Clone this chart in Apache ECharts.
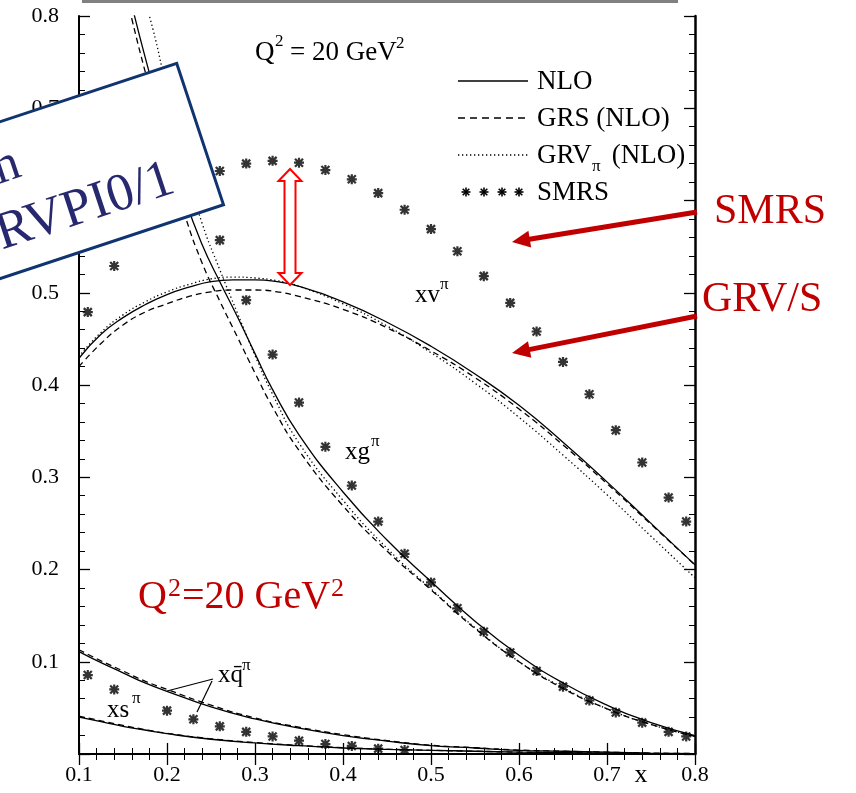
<!DOCTYPE html>
<html>
<head>
<meta charset="utf-8">
<script src="https://cdn.jsdelivr.net/npm/echarts@6/dist/echarts.min.js"></script>
<style>
  html, body { margin: 0; padding: 0; background: #fff; }
  #chart { width: 856px; height: 793px; }
</style>
</head>
<body>
<div id="chart"></div>
<script>
// valence curves xv (x grid)
const xvX = [0.10, 0.125, 0.15, 0.175, 0.20, 0.225, 0.25, 0.275, 0.30, 0.325, 0.35, 0.40, 0.45, 0.50, 0.55, 0.60, 0.65, 0.70, 0.75, 0.80];
const xvNLO = [0.429, 0.455, 0.473, 0.487, 0.498, 0.506, 0.512, 0.514, 0.514, 0.512, 0.507, 0.490, 0.468, 0.442, 0.412, 0.378, 0.338, 0.295, 0.250, 0.205];
const xvGRS = [0.420, 0.445, 0.465, 0.479, 0.488, 0.496, 0.501, 0.503, 0.503, 0.501, 0.496, 0.482, 0.462, 0.437, 0.408, 0.374, 0.335, 0.293, 0.249, 0.205];
const xvGRV = [0.431, 0.457, 0.476, 0.490, 0.501, 0.509, 0.515, 0.517, 0.516, 0.513, 0.507, 0.488, 0.464, 0.435, 0.402, 0.365, 0.324, 0.281, 0.236, 0.191];

// gluon curves xg
const xgX = [0.15, 0.16, 0.18, 0.20, 0.22, 0.24, 0.26, 0.28, 0.30, 0.32, 0.35, 0.40, 0.45, 0.50, 0.55, 0.60, 0.65, 0.70, 0.75, 0.80];
const xgNLO = [0.855, 0.812, 0.738, 0.668, 0.603, 0.552, 0.512, 0.474, 0.434, 0.395, 0.346, 0.284, 0.232, 0.187, 0.144, 0.107, 0.077, 0.053, 0.034, 0.020];
const xgGRS = [0.840, 0.797, 0.722, 0.650, 0.585, 0.532, 0.491, 0.452, 0.413, 0.376, 0.329, 0.269, 0.220, 0.178, 0.136, 0.100, 0.071, 0.049, 0.032, 0.019];
const xgGRV = [0.890, 0.860, 0.800, 0.720, 0.640, 0.575, 0.525, 0.478, 0.432, 0.390, 0.337, 0.275, 0.223, 0.179, 0.137, 0.100, 0.072, 0.049, 0.032, 0.019];

// sea quark xq and strange xs
const seaX = [0.10, 0.125, 0.15, 0.175, 0.20, 0.25, 0.30, 0.35, 0.40, 0.45, 0.50, 0.55, 0.60, 0.65, 0.70, 0.75, 0.80];
const xqNLO = [0.111, 0.099, 0.088, 0.077, 0.068, 0.051, 0.038, 0.028, 0.020, 0.014, 0.009, 0.0065, 0.004, 0.003, 0.002, 0.001, 0.0005];
const xqGRS = [0.113, 0.101, 0.090, 0.079, 0.070, 0.053, 0.039, 0.029, 0.021, 0.0145, 0.0095, 0.0068, 0.0043, 0.003, 0.002, 0.001, 0.0005];
const xsNLO = [0.040, 0.035, 0.030, 0.026, 0.022, 0.016, 0.012, 0.009, 0.0065, 0.005, 0.004, 0.003, 0.002, 0.0015, 0.001, 0.0005, 0.0003];
const xsGRS = [0.041, 0.036, 0.031, 0.0265, 0.0225, 0.0165, 0.0125, 0.0093, 0.0068, 0.0052, 0.004, 0.003, 0.002, 0.0015, 0.001, 0.0005, 0.0003];

// SMRS points
const smrsValX = [0.11, 0.14, 0.26, 0.29, 0.32, 0.35, 0.38, 0.41, 0.44, 0.47, 0.50, 0.53, 0.56, 0.59, 0.62, 0.65, 0.68, 0.71, 0.74, 0.77, 0.79];
const smrsVal = [0.479, 0.529, 0.632, 0.640, 0.643, 0.641, 0.633, 0.623, 0.608, 0.590, 0.569, 0.545, 0.518, 0.489, 0.458, 0.425, 0.390, 0.351, 0.316, 0.278, 0.252];
const smrsGluX = [0.26, 0.29, 0.32, 0.35, 0.38, 0.41, 0.44, 0.47, 0.50, 0.53, 0.56, 0.59, 0.62, 0.65, 0.68, 0.71, 0.74, 0.77, 0.79];
const smrsGlu = [0.557, 0.492, 0.433, 0.381, 0.333, 0.291, 0.252, 0.217, 0.186, 0.158, 0.1325, 0.110, 0.090, 0.073, 0.058, 0.045, 0.034, 0.024, 0.019];
const smrsSeaX = [0.11, 0.14, 0.20, 0.23, 0.26, 0.29, 0.32, 0.35, 0.38, 0.41, 0.44, 0.47];
const smrsSea = [0.0856, 0.070, 0.047, 0.0376, 0.030, 0.024, 0.019, 0.0144, 0.0108, 0.0087, 0.0058, 0.0043];

const FONT = 'Liberation Serif';
const RED = '#c00000';
const STAR = 'path://M3.9,0 L6.1,0 L6.1,10 L3.9,10 Z M0,3.9 L10,3.9 L10,6.1 L0,6.1 Z M1.8,0.2 L9.8,8.2 L8.2,9.8 L0.2,1.8 Z M8.2,0.2 L9.8,1.8 L1.8,9.8 L0.2,8.2 Z M3,3 L7,3 L7,7 L3,7 Z';

const pairs = (xs, ys) => xs.map((x, i) => [x, ys[i]]);

function curve(name, xs, ys, dash) {
  return {
    name: name, type: 'line', data: pairs(xs, ys), smooth: true, symbol: 'none',
    lineStyle: { color: '#000', width: 1.3, type: dash },
    z: 3
  };
}

function stars(name, xs, ys) {
  return {
    name: name, type: 'scatter', data: pairs(xs, ys), symbol: STAR, symbolSize: 10,
    itemStyle: { color: '#000' }, z: 4
  };
}

function txt(x, y, text, size, color, align) {
  return {
    type: 'text', x: x, y: y, z: 50,
    style: { text: text, fontFamily: FONT, fontSize: size, fill: color || '#000', align: align || 'left', verticalAlign: 'middle' }
  };
}

function seg(x1, y1, x2, y2, style) {
  return { type: 'line', z: 50, shape: { x1: x1, y1: y1, x2: x2, y2: y2 }, style: Object.assign({ stroke: '#000', lineWidth: 1.3 }, style || {}) };
}

function starMark(cx, cy) {
  const r = 4.5, d = 3.3;
  return [
    seg(cx - r, cy, cx + r, cy, { lineWidth: 1.6 }),
    seg(cx, cy - r, cx, cy + r, { lineWidth: 1.6 }),
    seg(cx - d, cy - d, cx + d, cy + d, { lineWidth: 1.6 }),
    seg(cx - d, cy + d, cx + d, cy - d, { lineWidth: 1.6 })
  ];
}

function redArrow(x1, y1, x2, y2) {
  const dx = x2 - x1, dy = y2 - y1, len = Math.sqrt(dx * dx + dy * dy);
  const ux = dx / len, uy = dy / len, hl = 18, hw = 8.5;
  const bx = x2 - ux * hl, by = y2 - uy * hl;
  return [
    seg(x1, y1, bx + ux * 2, by + uy * 2, { stroke: RED, lineWidth: 5 }),
    { type: 'polygon', z: 51, shape: { points: [[x2, y2], [bx - uy * hw, by + ux * hw], [bx + uy * hw, by - ux * hw]] }, style: { fill: RED } }
  ];
}

const chart = echarts.init(document.getElementById('chart'));

const axisLine = { show: true, lineStyle: { color: '#000', width: 2 } };
const axisTick = { show: true, inside: true, length: 11, lineStyle: { color: '#000', width: 1.3 } };
const minorTick = { show: true, splitNumber: 5, length: 6, lineStyle: { color: '#000', width: 1 } };

const graphic = [
  seg(82, 1.5, 678, 1.5, { stroke: '#808080', lineWidth: 3 }),
  // header
  txt(255, 53, 'Q', 27),
  txt(275, 42, '2', 17),
  txt(290, 53, '= 20 GeV', 27),
  txt(396, 44, '2', 17),
  // legend
  seg(458, 81, 528, 81),
  txt(537, 82, 'NLO', 27),
  seg(458, 118, 528, 118, { lineDash: [7, 5] }),
  txt(537, 119, 'GRS (NLO)', 27),
  seg(458, 155, 528, 155, { lineDash: [1.3, 2.7] }),
  txt(537, 156, 'GRV', 27),
  txt(592, 167, 'π', 17),
  txt(605, 156, ' (NLO)', 27),
  txt(537, 193, 'SMRS', 27),
  // curve labels
  txt(415, 295, 'xv', 25),
  txt(440, 285, 'π', 17),
  txt(345, 452, 'xg', 25),
  txt(371, 442, 'π', 17),
  txt(218, 675, 'xq\u0304', 25),
  txt(242, 666, 'π', 17),
  seg(213, 679, 167, 691, { lineWidth: 1.2 }),
  seg(212, 681, 197, 712, { lineWidth: 1.2 }),
  txt(107, 710, 'xs', 25),
  txt(132, 699, 'π', 17),
  txt(641, 775, 'x', 26, '#000', 'center'),
  // red annotations
  txt(138, 597, 'Q', 40, RED),
  txt(168, 589, '2', 26, RED),
  txt(182, 597, '=20 GeV', 40, RED),
  txt(331, 589, '2', 26, RED),
  txt(714, 212, 'SMRS', 42, RED),
  txt(702, 300, 'GRV/S', 42, RED),
  {
    type: 'polygon', z: 60,
    shape: { points: [[290, 169], [301.5, 181], [295.5, 181], [295.5, 273], [301.5, 273], [290, 285], [278.5, 273], [284.5, 273], [284.5, 181], [278.5, 181]] },
    style: { fill: '#fff', stroke: '#ff0000', lineWidth: 2 }
  },
  // rotated box
  {
    type: 'group', x: 176.7, y: 63.3, rotation: 18.3 * Math.PI / 180, z: 100,
    children: [
      { type: 'rect', z: 100, shape: { x: -600, y: 0, width: 600, height: 149 }, style: { fill: '#fff', stroke: '#0f3470', lineWidth: 3 } },
      { type: 'text', z: 101, x: -181, y: 45, style: { text: 'Comparison', fontFamily: FONT, fontSize: 52, fill: '#28286f', align: 'right', verticalAlign: 'middle' } },
      { type: 'text', z: 101, x: -40, y: 108, style: { text: 'GRVPI0/1', fontFamily: FONT, fontSize: 53, fill: '#28286f', align: 'right', verticalAlign: 'middle' } }
    ]
  }
];
[466, 484, 502, 519].forEach(cx => graphic.push(...starMark(cx, 192)));
graphic.push(...redArrow(697, 212, 512, 242));
graphic.push(...redArrow(697, 316, 512, 353));

const option = {
  animation: false,
  backgroundColor: '#fff',
  grid: { left: 79, right: 161, top: 16, bottom: 39, outerBoundsMode: 'none' },
  xAxis: [
    {
      type: 'value', min: 0.1, max: 0.8, interval: 0.1, position: 'bottom',
      axisLine: axisLine, axisTick: axisTick, minorTick: minorTick, splitLine: { show: false },
      axisLabel: { color: '#000', fontFamily: FONT, fontSize: 22, margin: 10, formatter: v => v.toFixed(1) }
    },
    {
      type: 'value', min: 0.1, max: 0.8, interval: 0.1, position: 'top',
      axisLine: axisLine, axisTick: axisTick, minorTick: minorTick, splitLine: { show: false },
      axisLabel: { show: false }
    }
  ],
  yAxis: [
    {
      type: 'value', min: 0, max: 0.8, interval: 0.1, position: 'left',
      axisLine: axisLine, axisTick: axisTick, minorTick: minorTick, splitLine: { show: false },
      axisLabel: { color: '#000', fontFamily: FONT, fontSize: 22, margin: 20, formatter: v => (v === 0 ? '' : v.toFixed(1)) }
    },
    {
      type: 'value', min: 0, max: 0.8, interval: 0.1, position: 'right',
      axisLine: { show: true, lineStyle: { color: '#000', width: 2.5 } }, axisTick: axisTick, minorTick: minorTick, splitLine: { show: false },
      axisLabel: { show: false }
    }
  ],
  series: [
    curve('xv NLO', xvX, xvNLO, 'solid'),
    curve('xv GRS', xvX, xvGRS, [6, 4]),
    curve('xv GRV', xvX, xvGRV, [1.3, 2.7]),
    curve('xg NLO', xgX, xgNLO, 'solid'),
    curve('xg GRS', xgX, xgGRS, [6, 4]),
    curve('xg GRV', xgX, xgGRV, [1.3, 2.7]),
    curve('xq NLO', seaX, xqNLO, 'solid'),
    curve('xq GRS', seaX, xqGRS, [6, 4]),
    curve('xs NLO', seaX, xsNLO, 'solid'),
    curve('xs GRS', seaX, xsGRS, [6, 4]),
    stars('SMRS xv', smrsValX, smrsVal),
    stars('SMRS xg', smrsGluX, smrsGlu),
    stars('SMRS xq', smrsSeaX, smrsSea)
  ],
  graphic: graphic
};

chart.setOption(option);
</script>
</body>
</html>
